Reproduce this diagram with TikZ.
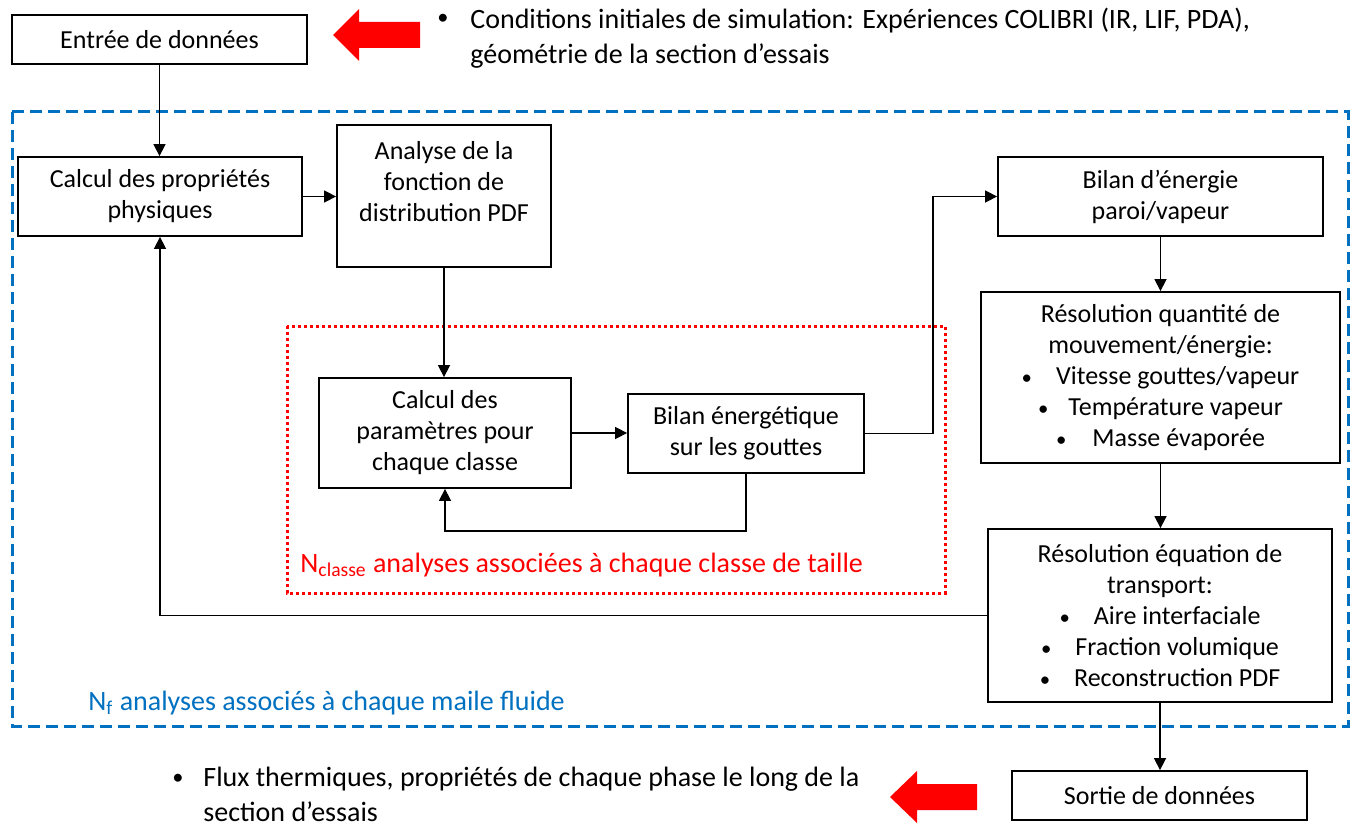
\documentclass[tikz,border=0pt]{standalone}
\usepackage{fontspec}
\setmainfont{Carlito}
\usetikzlibrary{arrows.meta}
\definecolor{bluedash}{HTML}{0070C0}
\definecolor{redarr}{HTML}{FF0000}
\newcommand{\smbul}{\scalebox{0.8}{•}}
\begin{document}
\begin{tikzpicture}[x=0.5pt,y=-0.5pt,
  boxfont/.style={font=\fontsize{13}{15.5}\selectfont},
  box/.style={draw, line width=0.9pt, inner sep=0pt, align=center, boxfont},
  sz/.style 2 args={minimum width=#1*0.5pt, minimum height=#2*0.5pt},
  conn/.style={line width=0.75pt, -{Triangle[length=6pt,width=6pt]}},
  bigtext/.style={font=\fontsize{14}{17.5}\selectfont, inner sep=0pt},
  redarrow/.style={fill=redarr, draw=none}]
\useasboundingbox (0,0) rectangle (1355,824);

% frames
\draw[bluedash, line width=1.5pt, dash pattern=on 6pt off 3pt] (12,112) rectangle (1348,726);
\draw[redarr, line width=1.5pt, dash pattern=on 1.5pt off 1.5pt] (287,326) rectangle (945,593);

% boxes
\node[box, sz={295}{49}] (entree) at (159.5,39.5) {Entrée de données};
\node[box, sz={284}{79}] (calc) at (160,196.5) {Calcul des propriétés\\physiques};
\node[box, sz={214}{142}] (analyse) at (444,196) {};
\node[boxfont, align=center, inner sep=0pt] (analysetxt) at (444,182) {Analyse de la\\fonction de\\distribution PDF};
\node[box, sz={252}{110}] (params) at (445,433) {Calcul des\\paramètres pour\\chaque classe};
\node[box, sz={236}{79}] (bilang) at (746,433.5) {Bilan énergétique\\sur les gouttes};
\node[box, sz={325}{79}] (bilene) at (1160.5,196.5) {Bilan d’énergie\\paroi/vapeur};
\node[box, sz={359}{171}] (resq) at (1160.5,377.5) {Résolution quantité de\\mouvement/énergie:\\\smbul\hspace{12pt}Vitesse gouttes/vapeur\\\smbul\hspace{10pt}Température vapeur\\\smbul\hspace{13pt}Masse évaporée};
\node[box, sz={344}{173}] (rese) at (1160,615.5) {Résolution équation de\\transport:\\\smbul\hspace{12pt}Aire interfaciale\\\smbul\hspace{12pt}Fraction volumique\\\smbul\hspace{12pt}Reconstruction PDF};
\node[box, sz={295}{49}] (sortie) at (1159.5,795.5) {Sortie de données};

% connectors
\draw[conn] (entree.south) -- (entree.south |- calc.north);
\draw[conn] (calc.east) -- (calc.east -| analyse.west);
\draw[conn] (analyse.south) -- (analyse.south |- params.north);
\draw[conn] (params.east) -- (params.east -| bilang.west);
\draw[conn] (bilang.south) -- ++(0,57) -| (params.south);
\draw[conn] (bilang.east) -- ++(68,0) |- (bilene.west);
\draw[conn] (bilene.south) -- (bilene.south |- resq.north);
\draw[conn] (resq.south) -- (resq.south |- rese.north);
\draw[conn] (rese.west) -| (calc.south);
\draw[conn] (rese.south) -- (rese.south |- sortie.north);

% red arrows
\fill[redarrow] (333,35) -- (359,9) -- (359,22) -- (420,22) -- (420,48) -- (359,48) -- (359,61) -- cycle;
\fill[redarrow] (890,797) -- (917,771) -- (917,784) -- (977,784) -- (977,810) -- (917,810) -- (917,823) -- cycle;

% side texts
\node[bigtext] (bul1) at (443,19) {\smbul};
\node[bigtext, anchor=west, align=left] (intxt) at (470,38.5) {Conditions initiales de simulation: Expériences COLIBRI (IR, LIF, PDA),\\géométrie de la section d’essais};
\node[bigtext] (bul2) at (178,779) {\smbul};
\node[bigtext, anchor=west, align=left] (outtxt) at (203,794.5) {Flux thermiques, propriétés de chaque phase le long de la\\section d’essais};

% frame labels
\node[bigtext, text=redarr, anchor=west] (redlbl) at (300,565) {N\textsubscript{classe} analyses associées à chaque classe de taille};
\node[bigtext, text=bluedash, anchor=west] (bluelbl) at (88,703) {N\textsubscript{f} analyses associés à chaque maile fluide};
\end{tikzpicture}
\end{document}
